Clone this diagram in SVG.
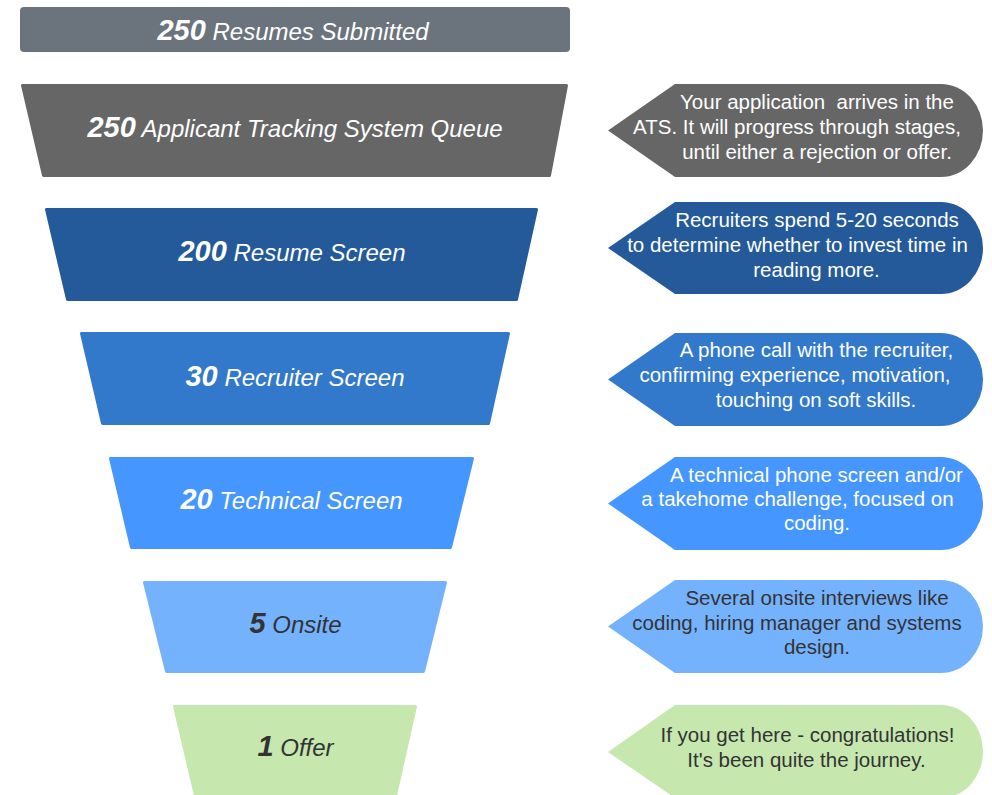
<svg xmlns="http://www.w3.org/2000/svg" width="992" height="795" viewBox="0 0 992 795">
<style>
  .stage { stroke-width: 3; stroke-linejoin: round; }
  .lbl { font-family: "Liberation Sans", Arial, sans-serif; font-style: italic; text-anchor: middle; }
  .num { font-weight: bold; font-size: 29px; }
  .txt { font-size: 24px; }
  .note { font-family: "Liberation Sans", Arial, sans-serif; font-size: 20.5px; text-anchor: middle; white-space: pre; }
  .w { fill: #ffffff; }
  .d { fill: #333333; }
</style>
<rect width="992" height="795" fill="#ffffff"/>

<g id="submitted">
  <rect x="20" y="7" width="550" height="45" rx="4" fill="#6b737c"/>
  <text class="lbl w" x="293" y="40"><tspan class="num">250</tspan><tspan class="txt"> Resumes Submitted</tspan></text>
</g>

<g id="ats">
  <polygon class="stage" points="22.5,85.5 566.5,85.5 549.5,175.5 43.5,175.5" fill="#666666" stroke="#666666"/>
  <text class="lbl w" x="295" y="137"><tspan class="num">250</tspan><tspan class="txt"> Applicant Tracking System Queue</tspan></text>
</g>
<g id="ats-note">
  <path d="M608,130.5 L675,84 L941,84 A42,46.5 0 0 1 941,177 L675,177 Z" fill="#666666"/>
  <text class="note w" x="817" y="109" xml:space="preserve">Your application  arrives in the</text>
  <text class="note w" x="797" y="134">ATS. It will progress through stages,</text>
  <text class="note w" x="817" y="159">until either a rejection or offer.</text>
</g>

<g id="resume">
  <polygon class="stage" points="46.5,209.5 536.5,209.5 516.5,299.5 67.5,299.5" fill="#245a99" stroke="#245a99"/>
  <text class="lbl w" x="292" y="261"><tspan class="num">200</tspan><tspan class="txt"> Resume Screen</tspan></text>
</g>
<g id="resume-note">
  <path d="M608,248 L675,202 L941,202 A42,46 0 0 1 941,294 L675,294 Z" fill="#245a99"/>
  <text class="note w" x="817" y="227">Recruiters spend 5-20 seconds</text>
  <text class="note w" x="797.5" y="252">to determine whether to invest time in</text>
  <text class="note w" x="816.5" y="277">reading more.</text>
</g>

<g id="recruiter">
  <polygon class="stage" points="81.5,333.5 508.5,333.5 488.5,423.5 102.5,423.5" fill="#3279cb" stroke="#3279cb"/>
  <text class="lbl w" x="295" y="386"><tspan class="num">30</tspan><tspan class="txt"> Recruiter Screen</tspan></text>
</g>
<g id="recruiter-note">
  <path d="M608,379.5 L675,333 L941,333 A42,46.5 0 0 1 941,426 L675,426 Z" fill="#3279cb"/>
  <text class="note w" x="816.5" y="357">A phone call with the recruiter,</text>
  <text class="note w" x="795" y="382">confirming experience, motivation,</text>
  <text class="note w" x="816" y="407">touching on soft skills.</text>
</g>

<g id="technical">
  <polygon class="stage" points="110.5,458.5 472.5,458.5 450.5,547.5 131.5,547.5" fill="#4596fe" stroke="#4596fe"/>
  <text class="lbl w" x="291.5" y="509"><tspan class="num">20</tspan><tspan class="txt"> Technical Screen</tspan></text>
</g>
<g id="technical-note">
  <path d="M608,503.5 L675,457 L941,457 A42,46.5 0 0 1 941,550 L675,550 Z" fill="#4596fe"/>
  <text class="note w" x="816.5" y="482">A technical phone screen and/or</text>
  <text class="note w" x="797.5" y="506">a takehome challenge, focused on</text>
  <text class="note w" x="817" y="530">coding.</text>
</g>

<g id="onsite">
  <polygon class="stage" points="144.5,582.5 445.5,582.5 423.5,671.5 166.5,671.5" fill="#75b2fd" stroke="#75b2fd"/>
  <text class="lbl d" x="295.5" y="633"><tspan class="num">5</tspan><tspan class="txt"> Onsite</tspan></text>
</g>
<g id="onsite-note">
  <path d="M608,626.5 L675,580 L941,580 A42,46.5 0 0 1 941,673 L675,673 Z" fill="#75b2fd"/>
  <text class="note d" x="817" y="605">Several onsite interviews like</text>
  <text class="note d" x="797" y="630">coding, hiring manager and systems</text>
  <text class="note d" x="817" y="654">design.</text>
</g>

<g id="offer">
  <polygon class="stage" points="174.5,706.5 415.5,706.5 394.5,800 196.5,800" fill="#c6e7ae" stroke="#c6e7ae"/>
  <text class="lbl d" x="295.5" y="756"><tspan class="num">1</tspan><tspan class="txt"> Offer</tspan></text>
</g>
<g id="offer-note">
  <path d="M608,752 L675,705 L941,705 A42,46.5 0 0 1 941,798 L675,798 Z" fill="#c6e7ae"/>
  <text class="note d" x="807.5" y="742">If you get here - congratulations!</text>
  <text class="note d" x="806.5" y="767">It's been quite the journey.</text>
</g>

<g id="connectors"></g>
</svg>
